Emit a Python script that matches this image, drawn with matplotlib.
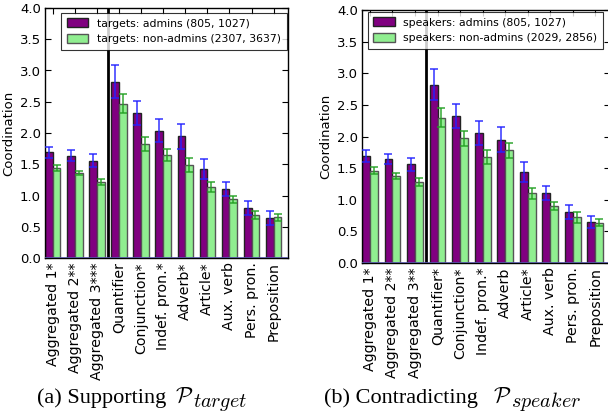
import numpy as np
import matplotlib
matplotlib.use("Agg")
import matplotlib.pyplot as plt

plt.rcParams['mathtext.fontset'] = 'cm'

# categories / tick labels
labels_a = ["Aggregated 1*", "Aggregated 2**", "Aggregated 3***", "Quantifier",
            "Conjunction*", "Indef. pron.*", "Adverb*", "Article*",
            "Aux. verb", "Pers. pron.", "Preposition"]
labels_b = ["Aggregated 1*", "Aggregated 2**", "Aggregated 3**", "Quantifier*",
            "Conjunction*", "Indef. pron.*", "Adverb", "Article*",
            "Aux. verb", "Pers. pron.", "Preposition"]

# (a) supporting P_target
admin_a = [1.69, 1.64, 1.56, 2.82, 2.32, 2.04, 1.95, 1.43, 1.10, 0.80, 0.64]
admin_a_err = [0.09, 0.09, 0.10, 0.26, 0.19, 0.19, 0.20, 0.16, 0.11, 0.11, 0.11]
nonadmin_a = [1.44, 1.36, 1.22, 2.47, 1.82, 1.65, 1.49, 1.14, 0.94, 0.69, 0.65]
nonadmin_a_err = [0.05, 0.03, 0.05, 0.15, 0.11, 0.10, 0.11, 0.08, 0.06, 0.065, 0.06]

# (b) contradicting P_speaker
admin_b = [1.69, 1.64, 1.56, 2.82, 2.33, 2.05, 1.95, 1.44, 1.10, 0.81, 0.65]
admin_b_err = [0.09, 0.08, 0.10, 0.25, 0.19, 0.19, 0.20, 0.16, 0.11, 0.11, 0.10]
nonadmin_b = [1.46, 1.38, 1.28, 2.30, 1.97, 1.67, 1.78, 1.10, 0.90, 0.72, 0.64]
nonadmin_b_err = [0.06, 0.05, 0.06, 0.15, 0.12, 0.11, 0.12, 0.09, 0.06, 0.08, 0.06]

legend_a = ["targets: admins (805, 1027)", "targets: non-admins (2307, 3637)"]
legend_b = ["speakers: admins (805, 1027)", "speakers: non-admins (2029, 2856)"]

# caption pieces: text, calligraphic symbol, subscript
captions = [("(a) Supporting", r"$\mathcal{P}$", r"$target$"),
            ("(b) Contradicting", r"$\mathcal{P}$", r"$speaker$")]

W, H = 608, 420
fig = plt.figure(figsize=(W / 100, H / 100), dpi=100)

width = 0.35


def draw_panel(ax, labels, adm, adm_err, non, non_err, leg, anchor):
    x = np.arange(len(labels))
    ax.bar(x, adm, width, align='edge', color='#800080', edgecolor='#222222',
           linewidth=1.0, label=leg[0], zorder=2)
    ax.bar(x + width, non, width, align='edge', color='#90ee90', edgecolor='#555555',
           linewidth=1.0, label=leg[1], zorder=2)
    ax.errorbar(x + width / 2, adm, yerr=adm_err, fmt='none', ecolor='#2222ff',
                elinewidth=1.2, capsize=3, capthick=1.2, alpha=0.85, zorder=3)
    ax.errorbar(x + 1.5 * width, non, yerr=non_err, fmt='none', ecolor='#22a022',
                elinewidth=1.2, capsize=3, capthick=1.2, alpha=0.85, zorder=3)
    ax.axvline(2.85, color='black', linewidth=2, zorder=4)
    ax.axhline(0, color='#5555aa', linewidth=1.2, zorder=4)
    ax.set_xlim(0, 11)
    ax.set_ylim(0, 4.0)
    ax.set_xticks(x + width)
    ax.set_xticklabels(labels, rotation=90, fontsize=10.2)
    ax.set_yticks(np.arange(0, 4.01, 0.5))
    ax.set_yticklabels(["%.1f" % v for v in np.arange(0, 4.01, 0.5)], fontsize=9.5)
    ax.tick_params(direction='in', top=True, right=True, length=4, width=0.8, pad=3)
    ax.set_ylabel("Coordination", fontsize=9.5, labelpad=3)
    for s in ax.spines.values():
        s.set_linewidth(1.0)
    lg = ax.legend(loc='upper right', bbox_to_anchor=anchor, fontsize=7.8,
                   frameon=True, fancybox=False, borderaxespad=0,
                   handlelength=2.0, handleheight=0.9, handletextpad=0.8,
                   borderpad=0.5, labelspacing=0.5)
    lg.get_frame().set_edgecolor('black')
    lg.get_frame().set_linewidth(0.8)


ax1 = fig.add_axes([45 / W, 1 - 258 / H, 243 / W, 250 / H])
draw_panel(ax1, labels_a, admin_a, admin_a_err, nonadmin_a, nonadmin_a_err, legend_a,
           (1 - 1.5 / 243, 1 - 5 / 250))

ax2 = fig.add_axes([362 / W, 1 - 263 / H, 248 / W, 253 / H])
draw_panel(ax2, labels_b, admin_b, admin_b_err, nonadmin_b, nonadmin_b_err, legend_b,
           (1 - 7 / 248, 1 - 2 / 253))

# captions, placed in pixels (left x of text, symbol, subscript)
cap_x = [(37, 175, 193), (324, 493, 511)]
base_y = 403
for (txt, sym, sub), (x0, x1, x2) in zip(captions, cap_x):
    fig.text(x0 / W, 1 - base_y / H, txt, ha='left', va='baseline',
             fontsize=16, family='Liberation Serif')
    fig.text(x1 / W, 1 - base_y / H, sym, ha='left', va='baseline', fontsize=16)
    fig.text(x2 / W, 1 - (base_y + 4) / H, sub, ha='left', va='baseline', fontsize=14.5)

fig.savefig("out.png", dpi=100)
